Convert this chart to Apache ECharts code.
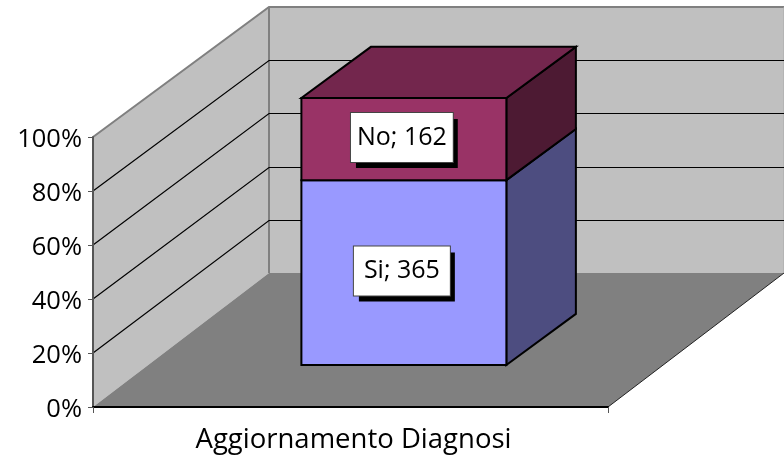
<!DOCTYPE html>
<html>
<head>
<meta charset="utf-8">
<style>html,body{margin:0;padding:0;background:#fff}#c{width:784px;height:456px}</style>
<script src="https://cdn.jsdelivr.net/npm/echarts@6/dist/echarts.min.js"></script>
</head>
<body>
<div id="c"></div>
<script>
const categories = ['Aggiornamento Diagnosi'];
const seriesNames = ['Si', 'No'];
const siValues = [365];
const noValues = [162];
const yTicks = [20, 40, 60, 80, 100];

const FONT = '"Open Sans"';
const DEPTH = [176, -134];
const BACK_SCALE = 266 / 270;
const BAR_DEPTH_X = [0.315, 0.71];
const BAR_DEPTH_Y = [0.313, 0.695];
const BAR_X = [0.297, 0.695];
const BAR_Y_SCALE = 267 / 270;

const chart = echarts.init(document.getElementById('c'), null, {renderer: 'canvas'});

const total = siValues[0] + noValues[0];

function renderWalls(params, api) {
  const g = params.coordSys;
  const x0 = g.x, x1 = g.x + g.width;
  const b = api.coord([0, 0])[1], t = api.coord([0, 100])[1];
  const backB = b + DEPTH[1];
  const backT = backB - (b - t) * BACK_SCALE;
  const fl = [x0, b], fr = [x1, b], tl = [x0, t];
  const bl = [x0 + DEPTH[0], backB], br = [x1 + DEPTH[0], backB];
  const btl = [x0 + DEPTH[0], backT], btr = [x1 + DEPTH[0], backT];
  return {type: 'group', children: [
    {type: 'polygon', shape: {points: [fl, tl, btl, bl]}, style: {fill: '#C0C0C0'}},
    {type: 'polygon', shape: {points: [bl, btl, btr, br]}, style: {fill: '#C0C0C0'}},
    {type: 'polygon', shape: {points: [fl, fr, br, bl]}, style: {fill: '#808080'}},
    {type: 'polyline', shape: {points: [tl, btl, btr]}, style: {fill: 'none', stroke: '#808080', lineWidth: 2}},
    {type: 'line', shape: {x1: btl[0], y1: btl[1], x2: bl[0], y2: bl[1]}, style: {stroke: '#808080', lineWidth: 2}},
    {type: 'line', shape: {x1: fr[0], y1: fr[1], x2: br[0], y2: br[1]}, style: {stroke: '#222', lineWidth: 1}},
    {type: 'line', shape: {x1: br[0], y1: br[1], x2: btr[0], y2: btr[1]}, style: {stroke: '#A8A8A8', lineWidth: 1}}
  ]};
}

function renderGrid(params, api) {
  const g = params.coordSys;
  const v = api.value(0);
  const base = api.coord([0, 0])[1];
  const y = api.coord([0, v])[1];
  const a = [g.x, y];
  const backY = Math.round(base + DEPTH[1] - (base - y) * BACK_SCALE) + 0.5;
  const b = [g.x + DEPTH[0], backY], c = [g.x + g.width + DEPTH[0], backY];
  return {type: 'polyline', shape: {points: v === 100 ? [] : [a, b, c]}, style: {fill: 'none', stroke: '#000', lineWidth: 1.2}};
}

function barRender(fromPct, toPct, front, top, side, text, padX) {
  return function (params, api) {
    const g = params.coordSys;
    const base = api.coord([0, 0])[1];
    const yFor = p => base + (api.coord([0, p])[1] - base) * BAR_Y_SCALE;
    const xl = g.x + g.width * BAR_X[0], xr = g.x + g.width * BAR_X[1];
    const at = (x, p, i) => [x + DEPTH[0] * BAR_DEPTH_X[i], yFor(p) + DEPTH[1] * BAR_DEPTH_Y[i]];
    const a = at(xl, fromPct, 0), b = at(xr, fromPct, 0), c = at(xr, toPct, 0), d = at(xl, toPct, 0);
    const e = at(xr, fromPct, 1), f = at(xr, toPct, 1), h = at(xl, toPct, 1);
    const st = fill => ({fill, stroke: '#000', lineWidth: 2, lineJoin: 'miter'});
    const kids = [
      {type: 'polygon', shape: {points: [b, e, f, c]}, style: st(side)},
      {type: 'polygon', shape: {points: [a, b, c, d]}, style: st(front)}
    ];
    if (toPct === 100) kids.push({type: 'polygon', shape: {points: [d, c, f, h]}, style: st(top)});
    const cx = (a[0] + b[0]) / 2 - 2, cy = (a[1] + d[1]) / 2 - 1.5;
    const box = {
      text, align: 'center', verticalAlign: 'middle',
      font: '25px ' + FONT, padding: [12, padX, 12, padX]
    };
    kids.push({type: 'text', z2: 9, style: Object.assign({}, box, {x: cx + 5, y: cy + 6, fill: '#000', backgroundColor: '#000'})});
    kids.push({type: 'text', z2: 10, style: Object.assign({}, box, {x: cx, y: cy, fill: '#000', backgroundColor: '#fff', borderColor: '#444', borderWidth: 1})});
    return {type: 'group', children: kids};
  };
}

const siPct = siValues[0] / total * 100;

chart.setOption({
  animation: false,
  backgroundColor: '#fff',
  grid: {left: 93, top: 137, width: 515, height: 270, containLabel: false},
  xAxis: {
    type: 'category', data: categories, boundaryGap: true, z: 5,
    axisLine: {show: true, lineStyle: {color: '#000', width: 2}},
    axisTick: {show: true, length: 6, lineStyle: {color: '#555', width: 1}},
    axisLabel: {show: true, fontFamily: FONT, fontSize: 27.5, color: '#000', margin: 19, padding: [0, 0, 0, 6]},
    splitLine: {show: false}
  },
  yAxis: {
    type: 'value', min: 0, max: 100, interval: 20, z: 5,
    axisLine: {show: true, lineStyle: {color: '#555', width: 2}},
    axisTick: {show: true, length: 5, lineStyle: {color: '#555', width: 1}},
    axisLabel: {
      show: true, formatter: '{t|{value}%}', margin: 11,
      rich: {t: {fontFamily: FONT, fontSize: 25.5, color: '#000', padding: [6, 0, 0, 0]}}
    },
    splitLine: {show: false}
  },
  series: [
    {type: 'custom', name: 'Pareti', coordinateSystem: 'cartesian2d', silent: true, z: 1, data: [[0]], renderItem: renderWalls},
    {type: 'custom', name: 'Griglia', coordinateSystem: 'cartesian2d', silent: true, z: 2, data: yTicks.map(v => [v]), encode: {y: 0}, renderItem: renderGrid},
    {type: 'custom', name: seriesNames[0], coordinateSystem: 'cartesian2d', silent: true, z: 3, data: siValues.map(v => [v]),
      renderItem: barRender(0, siPct, '#9999FF', '#7373BF', '#4D4D80', seriesNames[0] + '; ' + siValues[0], 10)},
    {type: 'custom', name: seriesNames[1], coordinateSystem: 'cartesian2d', silent: true, z: 4, data: noValues.map(v => [v]),
      renderItem: barRender(siPct, 100, '#993366', '#73264D', '#4D1A33', seriesNames[1] + '; ' + noValues[0], 6)}
  ]
});
</script>
</body>
</html>
